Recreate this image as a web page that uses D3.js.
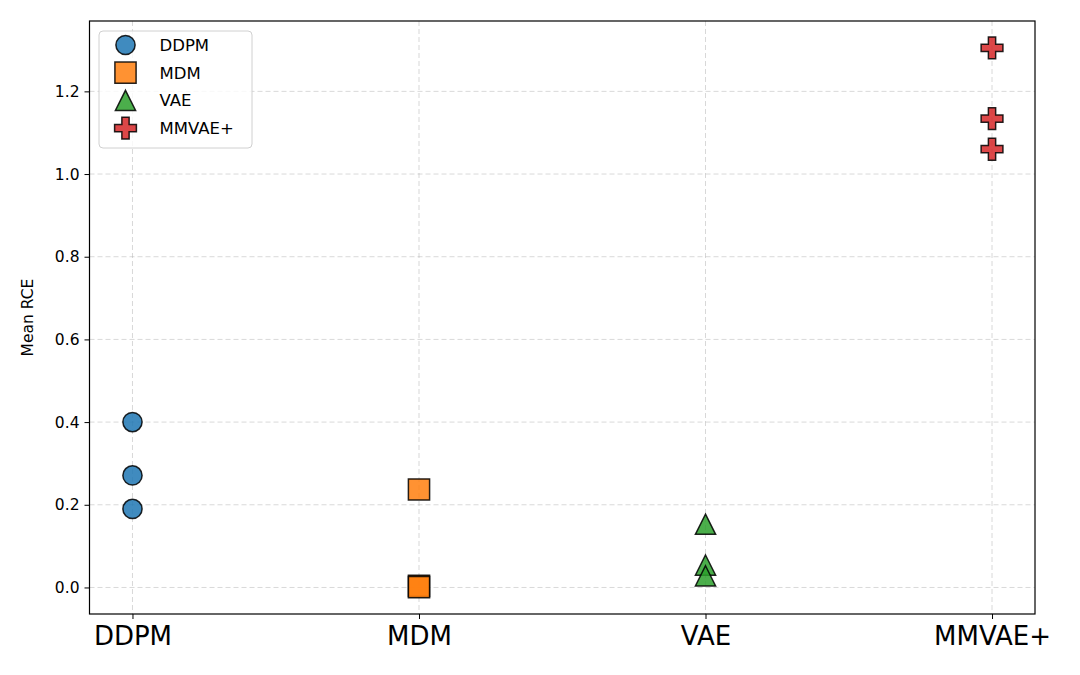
<!DOCTYPE html>
<html>
<head>
<meta charset="utf-8">
<script src="https://cdn.jsdelivr.net/npm/d3@7"></script>
<style>
  body { margin: 0; background: #fff; }
  text { font-family: "DejaVu Sans", sans-serif; fill: #000; }
</style>
</head>
<body>
<div class="chart"></div>
<script>
const models = ['DDPM', 'MDM', 'VAE', 'MMVAE+']
const ddpmVals = [0.40, 0.271, 0.19]
const mdmVals = [0.237, 0.004, 0.001]
const vaeVals = [0.153, 0.054, 0.028]
const mmvaeVals = [1.305, 1.134, 1.060]
const yTicks = [0.0, 0.2, 0.4, 0.6, 0.8, 1.0, 1.2]
const colors = ['#1f77b4', '#ff7f0e', '#2ca02c', '#d62728']

const width = 1080
const height = 675
const margin = {top: 21, right: 45, bottom: 61, left: 89.5}
const graphWidth = width - margin.left - margin.right
const graphHeight = height - margin.top - margin.bottom

const seriesVals = [ddpmVals, mdmVals, vaeVals, mmvaeVals]
const points = []
seriesVals.forEach((vals, i) => vals.forEach(v => points.push({i: i, v: v})))

// matplotlib style 5% margins
const allVals = points.map(d => d.v)
const yMin = d3.min(allVals), yMax = d3.max(allVals)
const pad = (yMax - yMin) * 0.05

const xScale = d3.scaleLinear()
    .domain([-0.15, models.length - 1 + 0.15])
    .range([0, graphWidth])
const yScale = d3.scaleLinear()
    .domain([yMin - pad, yMax + pad])
    .range([graphHeight, 0])

// custom marker shapes, size = half extent
const shapes = [
  {draw(ctx, s) { ctx.moveTo(s, 0); ctx.arc(0, 0, s, 0, 2 * Math.PI) }},
  {draw(ctx, s) { ctx.rect(-s, -s, 2 * s, 2 * s) }},
  {draw(ctx, s) { ctx.moveTo(0, -s); ctx.lineTo(s, s); ctx.lineTo(-s, s); ctx.closePath() }},
  {draw(ctx, s) {
    const a = s / 3
    ctx.moveTo(-a, -s); ctx.lineTo(a, -s); ctx.lineTo(a, -a); ctx.lineTo(s, -a)
    ctx.lineTo(s, a); ctx.lineTo(a, a); ctx.lineTo(a, s); ctx.lineTo(-a, s)
    ctx.lineTo(-a, a); ctx.lineTo(-s, a); ctx.lineTo(-s, -a); ctx.lineTo(-a, -a)
    ctx.closePath()
  }}
]
const sizes = [9.6, 10.6, 10.1, 10.9]

const svg = d3.select('.chart')
  .append('svg')
  .attr('width', width)
  .attr('height', height)

svg.append('rect').attr('width', width).attr('height', height).attr('fill', '#fff')

const graph = svg.append('g')
  .attr('transform', `translate(${margin.left}, ${margin.top})`)

// grid
graph.append('g').selectAll('line')
  .data(yTicks)
  .enter()
  .append('line')
  .attr('x1', 0).attr('x2', graphWidth)
  .attr('y1', d => yScale(d)).attr('y2', d => yScale(d))
  .attr('stroke', '#b0b0b0').attr('stroke-opacity', 0.55)
  .attr('stroke-width', 0.9).attr('stroke-dasharray', '5,3')

graph.append('g').selectAll('line')
  .data(models)
  .enter()
  .append('line')
  .attr('x1', (d, i) => xScale(i)).attr('x2', (d, i) => xScale(i))
  .attr('y1', 0).attr('y2', graphHeight)
  .attr('stroke', '#b0b0b0').attr('stroke-opacity', 0.55)
  .attr('stroke-width', 0.9).attr('stroke-dasharray', '5,3')

// axes
const yAxis = d3.axisLeft(yScale)
  .tickValues(yTicks)
  .tickFormat(d3.format('.1f'))
  .tickSize(5)
  .tickPadding(5)
const yAxisGroup = graph.append('g').call(yAxis)
yAxisGroup.select('.domain').remove()
yAxisGroup.selectAll('text')
  .attr('font-size', '15.5px')
  .attr('font-family', '"DejaVu Sans", sans-serif')
  .attr('fill', '#222')

const xAxis = d3.axisBottom(xScale)
  .tickValues(d3.range(models.length))
  .tickFormat(i => models[i])
  .tickSize(5)
  .tickPadding(8)
const xAxisGroup = graph.append('g')
  .attr('transform', `translate(0, ${graphHeight})`)
  .call(xAxis)
xAxisGroup.select('.domain').remove()
xAxisGroup.selectAll('text')
  .attr('font-size', '26px')
  .attr('font-family', '"DejaVu Sans", sans-serif')
  .attr('fill', '#111')

// frame
graph.append('rect')
  .attr('width', graphWidth).attr('height', graphHeight)
  .attr('fill', 'none').attr('stroke', '#000').attr('stroke-width', 1.2)

// y label
svg.append('text')
  .attr('transform', `translate(33, ${margin.top + graphHeight / 2}) rotate(-90)`)
  .attr('text-anchor', 'middle')
  .attr('font-size', '15.5px')
  .attr('fill', '#222')
  .text('Mean RCE')

// points
graph.append('g').selectAll('path')
  .data(points)
  .enter()
  .append('path')
  .attr('d', d => d3.symbol().type(shapes[d.i]).size(sizes[d.i])())
  .attr('transform', d => `translate(${xScale(d.i)}, ${yScale(d.v)})`)
  .attr('fill', d => colors[d.i])
  .attr('fill-opacity', 0.85)
  .attr('stroke', '#000')
  .attr('stroke-opacity', 0.85)
  .attr('stroke-width', 1.5)

// legend
const legend = svg.append('g')
legend.append('rect')
  .attr('x', 99).attr('y', 31)
  .attr('width', 153).attr('height', 117)
  .attr('rx', 4)
  .attr('fill', '#fff').attr('fill-opacity', 0.8)
  .attr('stroke', '#d0d0d0').attr('stroke-width', 1)

const items = legend.selectAll('g.item')
  .data(models)
  .enter()
  .append('g')
  .attr('transform', (d, i) => `translate(125.5, ${45 + i * 27.7})`)

items.append('path')
  .attr('d', (d, i) => d3.symbol().type(shapes[i]).size(sizes[i])())
  .attr('fill', (d, i) => colors[i])
  .attr('fill-opacity', 0.85)
  .attr('stroke', '#000')
  .attr('stroke-opacity', 0.85)
  .attr('stroke-width', 1.5)

items.append('text')
  .attr('x', 34)
  .attr('y', 6)
  .attr('font-size', '16.5px')
  .attr('fill', '#222')
  .text(d => d)
</script>
</body>
</html>
